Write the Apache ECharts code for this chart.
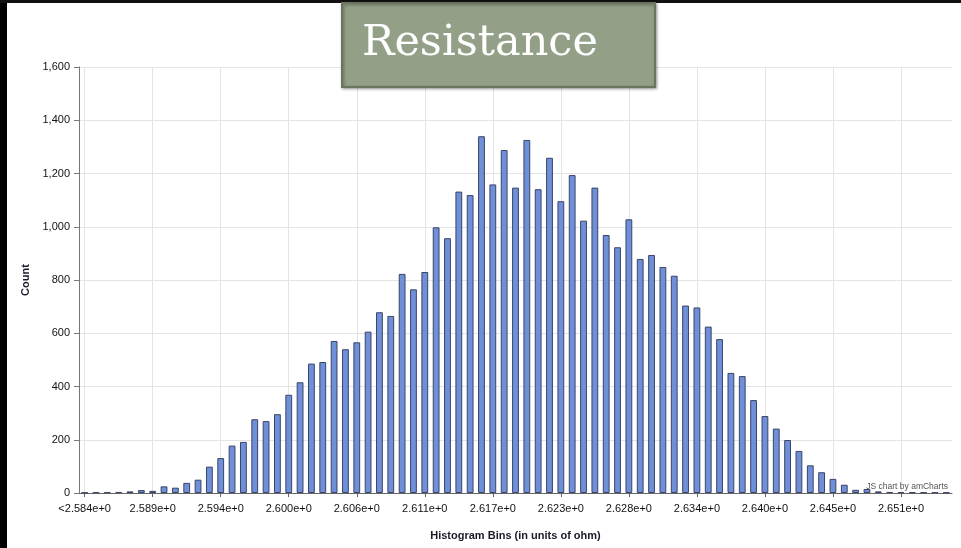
<!DOCTYPE html>
<html>
<head>
<meta charset="utf-8">
<script src="https://cdn.jsdelivr.net/npm/echarts@6/dist/echarts.min.js"></script>
<style>
html,body{margin:0;padding:0;background:#fff;}
#chart{width:961px;height:548px;}
</style>
</head>
<body>
<div id="chart"></div>
<script>
// Tick labels shown every 6th bin
const tickLabels = ['<2.584e+0','2.589e+0','2.594e+0','2.600e+0','2.606e+0','2.611e+0','2.617e+0','2.623e+0','2.628e+0','2.634e+0','2.640e+0','2.645e+0','2.651e+0'];
const binsPerTick = 6;
// Histogram counts per bin (77 bins)
const counts = [2,2,3,4,6,11,8,25,20,38,50,99,131,178,192,277,270,296,369,416,
  486,492,571,540,566,606,679,665,823,765,830,998,957,1132,1119,1340,1159,1288,1147,1326,
  1141,1259,1096,1194,1023,1147,969,923,1028,879,894,849,816,704,697,625,578,451,439,349,
  289,242,199,158,104,78,53,31,12,15,6,4,3,3,2,2,2];
const yTicks = {min:0, max:1600, interval:200};

const categories = counts.map((v,i)=> (i % binsPerTick === 0 && tickLabels[i/binsPerTick] !== undefined) ? tickLabels[i/binsPerTick] : ('bin' + i));
const gridIdx = tickLabels.map((t,k)=>k*binsPerTick);

const chart = echarts.init(document.getElementById('chart'), null, {renderer:'canvas'});
const font = "'Liberation Sans', Arial, sans-serif";
chart.setOption({
  animation:false,
  backgroundColor:'#ffffff',
  grid:{left:79, right:9, top:67, bottom:55, containLabel:false},
  xAxis:{
    type:'category',
    data:categories,
    boundaryGap:true,
    name:'Histogram Bins (in units of ohm)',
    nameLocation:'middle',
    nameGap:37,
    nameTextStyle:{fontFamily:font,fontSize:11,fontWeight:'bold',color:'#1a1a2a'},
    axisLine:{show:true,lineStyle:{color:'#666',width:1}},
    axisTick:{show:true,alignWithLabel:true,interval:binsPerTick-1,length:4,lineStyle:{color:'#666'}},
    axisLabel:{interval:binsPerTick-1,margin:10,fontFamily:font,fontSize:11,color:'#111',
      formatter:(v)=> v.startsWith('bin') ? '' : v},
    splitLine:{show:false}
  },
  yAxis:{
    type:'value',
    min:yTicks.min,max:yTicks.max,interval:yTicks.interval,
    name:'Count',
    nameLocation:'middle',
    nameGap:46,
    nameTextStyle:{fontFamily:font,fontSize:11,fontWeight:'bold',color:'#1a1a2a'},
    axisLine:{show:true,lineStyle:{color:'#777',width:1}},
    axisTick:{show:true,length:5,lineStyle:{color:'#777'}},
    axisLabel:{margin:9,fontFamily:font,fontSize:11,color:'#111',
      formatter:(v)=> v.toLocaleString('en-US')},
    splitLine:{show:true,lineStyle:{color:'#e4e4e4',width:1}}
  },
  series:[{
    type:'bar',
    data:counts,
    barWidth:'60%',
    z:2,
    itemStyle:{color:'#6f8fd9',borderColor:'#3a4566',borderWidth:1},
    markLine:{
      silent:true,
      z:1,
      symbol:['none','none'],
      label:{show:false},
      lineStyle:{color:'#e4e4e4',type:'solid',width:1},
      data:gridIdx.map(i=>({xAxis:i}))
    }
  }],
  graphic:[
    {type:'rect',shape:{x:0,y:0,width:7,height:548},style:{fill:'#000'},z:100},
    {type:'rect',shape:{x:0,y:0,width:961,height:3},style:{fill:'#111'},z:100},
    {type:'rect',shape:{x:342,y:3,width:313,height:84},
      style:{fill:'#939f86',stroke:'#6a7461',lineWidth:2,shadowBlur:3,shadowColor:'rgba(0,0,0,0.35)',shadowOffsetX:1,shadowOffsetY:1},z:100},
    {type:'text',x:362,y:44,z:101,
      style:{text:'Resistance',fill:'#ffffff',font:"43px 'DejaVu Serif', 'Liberation Serif', serif",textAlign:'left',textVerticalAlign:'middle'}},
    {type:'text',x:948,y:487,z:101,
      style:{text:'JS chart by amCharts',fill:'#555',font:"8.5px 'Liberation Sans', Arial, sans-serif",textAlign:'right',textVerticalAlign:'middle'}}
  ]
});
</script>
</body>
</html>
